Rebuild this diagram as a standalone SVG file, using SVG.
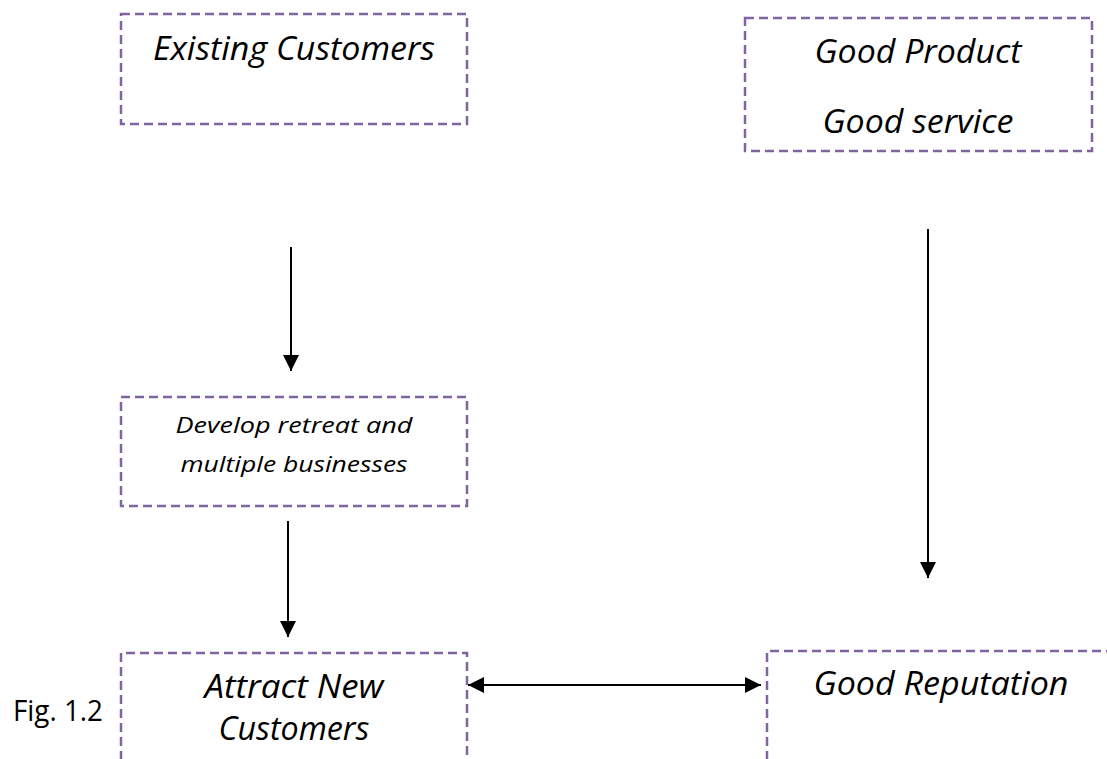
<svg xmlns="http://www.w3.org/2000/svg" width="1107" height="759" viewBox="0 0 1107 759">
<style>
.box{fill:none;stroke:#8064A2;stroke-width:2.5;stroke-dasharray:9 5}
.t{font-family:"Open Sans","Noto Sans","Liberation Sans",sans-serif;font-style:italic;fill:#000}
.big{font-size:33px}
.small{font-size:22px}
.fig{font-family:"Open Sans","Noto Sans","Liberation Sans",sans-serif;font-size:30px;fill:#000}
.con{stroke:#000;stroke-width:2;fill:none}
</style>
<defs>
<marker id="ah2" viewBox="0 0 16 16" refX="16" refY="8" markerWidth="16" markerHeight="16" orient="auto-start-reverse" markerUnits="userSpaceOnUse">
<path d="M0,0 L16,8 L0,16 Z" fill="#000"/>
</marker>
</defs>
<rect width="1107" height="759" fill="#fff"/>
<g id="existing">
<rect class="box" x="121" y="14" width="346" height="110"/>
<text class="t big" x="294" y="60" text-anchor="middle" textLength="282" lengthAdjust="spacingAndGlyphs">Existing Customers</text>
</g>
<g id="good-product">
<rect class="box" x="745" y="18" width="347" height="133"/>
<text class="t big" x="918" y="63" text-anchor="middle" textLength="207" lengthAdjust="spacingAndGlyphs">Good Product</text>
<text class="t big" x="918" y="133" text-anchor="middle" textLength="191" lengthAdjust="spacingAndGlyphs">Good service</text>
</g>
<g id="develop">
<rect class="box" x="121" y="397" width="346" height="109"/>
<text class="t small" x="294" y="433" text-anchor="middle" textLength="237" lengthAdjust="spacingAndGlyphs">Develop retreat and</text>
<text class="t small" x="294" y="472" text-anchor="middle" textLength="227" lengthAdjust="spacingAndGlyphs">multiple businesses</text>
</g>
<g id="attract">
<path class="box" d="M121,760 V653 H467 V760"/>
<text class="t big" x="294" y="698" text-anchor="middle" textLength="179" lengthAdjust="spacingAndGlyphs">Attract New</text>
<text class="t big" x="294" y="740" text-anchor="middle" textLength="151" lengthAdjust="spacingAndGlyphs">Customers</text>
</g>
<g id="reputation">
<path class="box" d="M767,760 V651 H1110"/>
<text class="t big" x="941" y="695" text-anchor="middle" textLength="255" lengthAdjust="spacingAndGlyphs">Good Reputation</text>
</g>
<g id="fig-label">
<text class="fig" x="13" y="721" textLength="90" lengthAdjust="spacingAndGlyphs">Fig. 1.2</text>
</g>
<g id="connectors">
<line class="con" x1="291" y1="247" x2="291" y2="371" marker-end="url(#ah2)"/>
<line class="con" x1="288" y1="521" x2="288" y2="637" marker-end="url(#ah2)"/>
<line class="con" x1="928" y1="229" x2="928" y2="578" marker-end="url(#ah2)"/>
<line class="con" x1="468" y1="685" x2="761" y2="685" marker-start="url(#ah2)" marker-end="url(#ah2)"/>
</g>
</svg>
